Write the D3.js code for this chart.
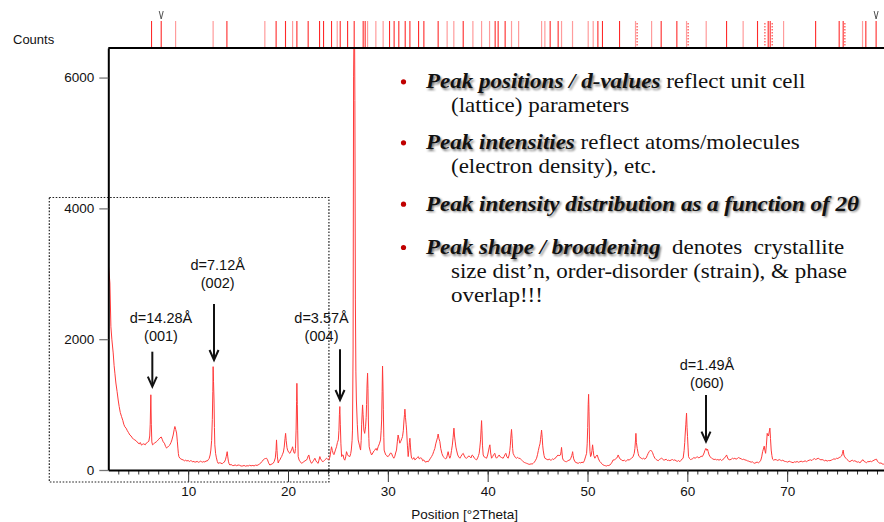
<!DOCTYPE html>
<html>
<head>
<meta charset="utf-8">
<script src="https://cdn.jsdelivr.net/npm/d3@7"></script>
<style>
  html, body { margin: 0; padding: 0; background: #fff; }
  svg { display: block; font-family: "Liberation Sans", Arial, sans-serif; }
</style>
</head>
<body>
<svg id="chart" width="884" height="522"></svg>
<script>
// Powder XRD scan: [position °2θ, counts]
const scan = [
[1.96,3210],[2.06,3050],[2.16,2860],[2.26,2190],[2.36,1990],[2.49,1790],[2.58,1600],[2.66,1480],[2.76,1330],[2.88,1200],
[2.99,1070],[3.09,970],[3.2,880],[3.33,815],[3.45,760],[3.55,700],[3.66,660],[3.78,640],[3.91,600],[4.03,570],
[4.16,535],[4.28,520],[4.41,490],[4.53,470],[4.66,460],[4.8,445],[4.96,415],[5.1,400],[5.2,420],[5.33,380],
[5.45,395],[5.56,400],[5.7,385],[5.83,415],[5.95,425],[6.06,440],[6.15,520],[6.2,700],[6.26,1150],[6.31,700],
[6.36,430],[6.43,385],[6.55,400],[6.66,415],[6.8,430],[6.91,445],[7.05,470],[7.17,490],[7.3,505],[7.4,470],
[7.5,430],[7.62,410],[7.74,360],[7.84,335],[7.95,350],[8.07,370],[8.17,385],[8.28,420],[8.37,460],[8.5,535],
[8.6,620],[8.67,665],[8.75,620],[8.84,565],[8.92,430],[8.97,335],[9.02,250],[9.07,205],[9.17,180],[9.27,170],
[9.38,160],[9.5,155],[9.62,140],[9.75,150],[9.87,138],[10.0,145],[10.12,130],[10.24,142],[10.34,138],[10.46,125],
[10.58,132],[10.67,120],[10.77,123],[10.9,132],[11.02,118],[11.15,126],[11.25,135],[11.34,127],[11.46,120],[11.57,130],
[11.67,122],[11.8,140],[11.9,135],[12.0,155],[12.1,175],[12.2,230],[12.27,305],[12.35,450],[12.42,770],[12.47,1200],
[12.5,1580],[12.54,1350],[12.59,1070],[12.63,650],[12.67,385],[12.75,250],[12.83,185],[12.92,130],[13.0,102],[13.12,110],
[13.27,107],[13.4,95],[13.51,112],[13.62,120],[13.73,155],[13.82,210],[13.91,280],[13.97,200],[14.03,135],[14.1,95],
[14.18,76],[14.3,85],[14.42,70],[14.58,68],[14.7,78],[14.85,66],[15.01,76],[15.15,72],[15.3,60],[15.48,62],
[15.6,70],[15.75,58],[15.9,66],[16.01,61],[16.15,72],[16.3,64],[16.48,70],[16.6,62],[16.75,75],[16.9,70],
[17.01,78],[17.15,92],[17.28,108],[17.4,130],[17.51,153],[17.62,168],[17.73,175],[17.85,180],[17.95,155],[18.03,120],
[18.1,95],[18.18,76],[18.3,85],[18.42,95],[18.51,102],[18.62,130],[18.73,185],[18.8,300],[18.85,460],[18.9,300],
[18.94,200],[19.02,107],[19.1,140],[19.19,155],[19.28,185],[19.36,205],[19.45,240],[19.54,275],[19.62,350],[19.7,480],
[19.76,560],[19.82,450],[19.9,340],[19.96,305],[20.07,270],[20.19,255],[20.3,290],[20.39,320],[20.46,355],[20.55,290],
[20.62,260],[20.69,255],[20.75,330],[20.81,610],[20.86,1050],[20.89,1325],[20.93,1000],[20.97,610],[21.02,205],[21.12,150],
[21.24,125],[21.36,102],[21.48,115],[21.59,127],[21.7,140],[21.8,148],[21.86,153],[21.95,180],[22.02,215],[22.09,230],
[22.18,160],[22.27,125],[22.36,102],[22.47,125],[22.58,150],[22.69,180],[22.8,140],[22.9,118],[23.02,102],[23.1,150],
[23.19,205],[23.27,170],[23.36,150],[23.44,130],[23.52,127],[23.6,140],[23.69,155],[23.78,165],[23.86,180],[23.97,165],
[24.09,155],[24.2,200],[24.3,300],[24.36,355],[24.44,300],[24.52,255],[24.6,235],[24.69,275],[24.78,320],[24.86,355],
[24.95,420],[25.04,460],[25.1,600],[25.15,850],[25.19,970],[25.24,700],[25.3,400],[25.37,205],[25.45,230],[25.52,230],
[25.6,170],[25.69,150],[25.78,200],[25.86,280],[25.95,240],[26.05,215],[26.19,205],[26.28,250],[26.34,305],[26.42,450],
[26.46,610],[26.52,1835],[26.57,6010],[26.62,6900],[26.66,6900],[26.7,5650],[26.75,2600],[26.8,1500],[26.85,1070],[26.94,700],
[27.03,460],[27.15,380],[27.27,305],[27.33,450],[27.38,700],[27.44,900],[27.47,995],[27.52,850],[27.6,610],[27.68,560],
[27.77,660],[27.83,800],[27.87,1000],[27.92,1300],[27.97,1480],[28.01,1250],[28.05,765],[28.1,480],[28.13,355],[28.25,280],
[28.37,230],[28.5,260],[28.6,290],[28.7,305],[28.82,330],[28.92,300],[29.03,355],[29.15,400],[29.27,460],[29.33,600],
[29.38,765],[29.43,1200],[29.47,1590],[29.51,1300],[29.55,920],[29.6,500],[29.63,305],[29.72,260],[29.8,230],[29.9,215],
[30.03,205],[30.15,230],[30.27,260],[30.37,255],[30.48,210],[30.6,180],[30.7,210],[30.78,260],[30.87,305],[30.95,430],
[31.03,535],[31.12,470],[31.2,410],[31.3,440],[31.4,480],[31.47,510],[31.55,600],[31.62,765],[31.67,850],[31.71,930],
[31.77,800],[31.83,700],[31.88,610],[31.96,380],[32.04,205],[32.1,300],[32.16,420],[32.21,485],[32.27,350],[32.33,230],
[32.38,180],[32.5,165],[32.6,190],[32.71,155],[32.83,170],[32.95,190],[33.05,205],[33.15,170],[33.27,185],[33.38,180],
[33.5,140],[33.6,155],[33.71,127],[33.82,120],[33.93,135],[34.04,125],[34.15,150],[34.27,180],[34.38,205],[34.5,240],
[34.6,285],[34.71,330],[34.8,400],[34.91,460],[34.98,500],[35.04,550],[35.12,480],[35.21,435],[35.3,330],[35.42,250],
[35.54,205],[35.65,190],[35.77,170],[35.88,180],[35.96,230],[36.04,280],[36.12,220],[36.21,180],[36.3,220],[36.38,300],
[36.46,380],[36.54,500],[36.62,640],[36.68,520],[36.75,430],[36.82,350],[36.88,305],[37.0,230],[37.1,200],[37.22,180],
[37.33,210],[37.45,240],[37.55,255],[37.66,215],[37.78,185],[37.89,180],[38.0,195],[38.1,215],[38.22,205],[38.33,185],
[38.45,230],[38.55,215],[38.67,180],[38.78,165],[38.89,155],[39.0,185],[39.08,220],[39.15,255],[39.22,350],[39.29,460],
[39.35,640],[39.39,755],[39.43,600],[39.48,380],[39.55,230],[39.65,200],[39.77,190],[39.89,180],[40.0,230],[40.1,305],
[40.16,350],[40.22,385],[40.3,260],[40.39,180],[40.5,205],[40.62,240],[40.72,255],[40.8,200],[40.89,180],[41.0,200],
[41.08,215],[41.15,230],[41.27,200],[41.4,190],[41.55,180],[41.66,210],[41.75,240],[41.82,255],[41.93,200],[42.05,180],
[42.15,230],[42.22,300],[42.27,380],[42.33,520],[42.39,620],[42.45,480],[42.5,330],[42.55,255],[42.66,220],[42.78,190],
[42.9,180],[43.0,195],[43.12,175],[43.23,180],[43.35,160],[43.45,145],[43.56,127],[43.68,115],[43.8,108],[43.9,102],
[44.02,95],[44.12,88],[44.23,87],[44.35,95],[44.45,90],[44.56,102],[44.68,120],[44.8,150],[44.9,180],[45.0,240],
[45.08,300],[45.16,355],[45.24,400],[45.3,470],[45.35,540],[45.4,610],[45.46,500],[45.51,380],[45.56,305],[45.65,220],
[45.73,180],[45.85,170],[45.95,160],[46.06,155],[46.17,170],[46.28,150],[46.4,155],[46.5,170],[46.62,160],[46.73,180],
[46.85,190],[46.95,215],[47.06,230],[47.15,215],[47.24,230],[47.3,230],[47.35,280],[47.4,345],[47.45,260],[47.5,185],
[47.56,155],[47.67,140],[47.78,130],[47.9,127],[48.02,140],[48.14,150],[48.24,155],[48.33,180],[48.42,220],[48.47,250],
[48.51,280],[48.56,220],[48.62,170],[48.74,127],[48.85,115],[48.95,108],[49.07,102],[49.2,115],[49.32,108],[49.45,120],
[49.57,112],[49.68,140],[49.8,200],[49.91,255],[49.97,400],[50.02,650],[50.07,1000],[50.11,1157],[50.15,900],[50.2,460],
[50.25,280],[50.31,205],[50.38,230],[50.45,300],[50.51,385],[50.57,300],[50.63,220],[50.74,180],[50.85,210],[50.97,230],
[51.1,170],[51.24,127],[51.35,110],[51.46,95],[51.57,76],[51.68,70],[51.8,65],[51.91,61],[52.02,70],[52.13,68],
[52.24,76],[52.35,95],[52.46,120],[52.57,155],[52.68,150],[52.8,170],[52.91,180],[53.0,200],[53.07,230],[53.15,200],
[53.25,170],[53.41,155],[53.55,140],[53.7,150],[53.8,135],[53.91,142],[54.05,160],[54.18,150],[54.3,170],[54.42,180],
[54.55,200],[54.68,255],[54.75,330],[54.81,460],[54.85,560],[54.9,420],[54.98,330],[55.08,250],[55.15,210],[55.25,195],
[55.38,180],[55.5,170],[55.62,180],[55.75,165],[55.88,185],[55.98,220],[56.08,255],[56.2,285],[56.32,305],[56.42,290],
[56.52,265],[56.62,220],[56.75,180],[56.88,160],[56.98,150],[57.08,142],[57.2,160],[57.3,170],[57.42,180],[57.55,165],
[57.65,150],[57.75,155],[57.88,165],[58.0,145],[58.12,150],[58.25,142],[58.4,155],[58.52,160],[58.62,148],[58.75,155],
[58.88,140],[59.0,132],[59.12,145],[59.25,127],[59.38,150],[59.48,170],[59.58,180],[59.68,300],[59.74,420],[59.78,535],
[59.85,700],[59.92,870],[59.97,650],[60.02,510],[60.07,350],[60.12,205],[60.22,175],[60.32,160],[60.42,165],[60.55,175],
[60.65,190],[60.78,180],[60.92,195],[61.05,200],[61.15,185],[61.26,195],[61.38,210],[61.5,205],[61.59,230],[61.68,260],
[61.76,300],[61.86,330],[61.95,300],[62.02,320],[62.09,280],[62.18,230],[62.3,200],[62.43,180],[62.55,170],[62.68,160],
[62.8,165],[62.93,155],[63.05,160],[63.18,150],[63.3,165],[63.43,145],[63.55,160],[63.68,175],[63.8,200],[63.88,215],
[63.93,230],[64.0,200],[64.1,165],[64.26,155],[64.4,165],[64.52,180],[64.65,170],[64.76,180],[64.88,165],[65.0,175],
[65.12,190],[65.26,180],[65.4,170],[65.52,160],[65.65,165],[65.76,155],[65.9,150],[66.02,140],[66.15,135],[66.26,127],
[66.4,120],[66.52,125],[66.64,110],[66.76,102],[66.88,115],[67.0,120],[67.12,110],[67.26,127],[67.36,150],[67.45,200],
[67.54,280],[67.62,320],[67.7,365],[67.77,300],[67.84,255],[67.92,380],[68.0,560],[68.06,530],[68.12,520],[68.2,580],
[68.27,640],[68.33,480],[68.4,305],[68.47,220],[68.54,165],[68.65,150],[68.78,160],[68.94,155],[69.06,145],[69.2,160],
[69.32,150],[69.44,142],[69.56,150],[69.7,135],[69.82,130],[69.94,127],[70.06,120],[70.2,135],[70.34,125],[70.47,118],
[70.6,112],[70.72,125],[70.86,120],[71.0,130],[71.13,118],[71.27,127],[71.4,135],[71.52,125],[71.66,130],[71.8,140],
[71.94,127],[72.06,140],[72.2,150],[72.34,155],[72.48,145],[72.61,165],[72.73,175],[72.86,160],[72.98,170],[73.11,180],
[73.25,165],[73.38,155],[73.5,160],[73.61,153],[73.75,140],[73.88,150],[74.0,135],[74.14,145],[74.28,142],[74.42,150],
[74.55,160],[74.68,170],[74.82,165],[74.95,180],[75.08,175],[75.2,190],[75.34,200],[75.45,215],[75.53,250],[75.61,305],
[75.68,230],[75.77,200],[75.88,180],[76.0,160],[76.14,140],[76.28,127],[76.4,140],[76.52,150],[76.65,135],[76.78,142],
[76.9,130],[77.02,120],[77.15,125],[77.28,112],[77.4,125],[77.5,150],[77.61,155],[77.72,130],[77.84,120],[77.95,112],
[78.08,130],[78.2,125],[78.32,135],[78.45,127],[78.58,140],[78.7,150],[78.82,160],[78.95,165],[79.05,130],[79.17,115],
[79.29,102],[79.4,110],[79.5,95],[79.62,87],[79.75,100],[79.9,95]
];

// Reference pattern stick positions (°2θ)
const refStrong = [6.33,7.30,13.88,18.81,19.75,20.89,22.02,23.16,23.56,24.36,25.23,25.97,26.63,27.53,27.73,
  30.17,30.63,31.10,31.74,32.21,33.08,33.61,35.04,37.55,40.75,41.05,41.75,46.26,47.06,51.04,51.50,53.21,
  57.38,58.95,63.93,67.03,68.10,68.30,72.85,75.21,75.61,77.88,78.91];
const refFaint = [8.74,12.50,17.68,20.46,24.93,27.97,28.80,29.53,35.94,36.61,38.52,39.39,40.19,42.39,43.10,
  45.40,45.73,47.40,48.50,50.07,50.57,54.81,56.42,59.92,61.89,65.59,69.64,77.55];
const refDotted = [54.97,60.08,67.77,68.50,75.78];
const refFlagged = [7.30,78.91];

const yTickValues = [0, 2000, 4000, 6000];
const xTickValues = [10, 20, 30, 40, 50, 60, 70];

// Labelled basal / (060) reflections
const peakNotes = [
  {theta: 6.41, tip: 1274, tail: 1809, labelTheta: 7.28, labelAt: 1972, d: "d=14.28Å", hkl: "(001)"},
  {theta: 12.59, tip: 1682, tail: 2538, labelTheta: 12.96, labelAt: 2783, d: "d=7.12Å", hkl: "(002)"},
  {theta: 25.21, tip: 1070, tail: 1846, labelTheta: 23.36, labelAt: 1972, d: "d=3.57Å", hkl: "(004)"},
  {theta: 61.87, tip: 433, tail: 1147, labelTheta: 61.97, labelAt: 1254, d: "d=1.49Å", hkl: "(060)"}
];

// Low-angle region outlined by a dotted box
const lowAngleBox = {thetaMax: 24.1, countsMax: 4166};

const bulletPoints = [
  {lead: "Peak positions / d-values", rest: " reflect unit cell", more: ["(lattice) parameters"]},
  {lead: "Peak intensities", rest: " reflect atoms/molecules", more: ["(electron density), etc."]},
  {lead: "Peak intensity distribution as a function of 2θ", rest: "", more: []},
  {lead: "Peak shape / broadening", rest: "  denotes  crystallite", more: ["size dist\u2019n, order-disorder (strain), & phase", "overlap!!!"]}
];

const W = 884, H = 522;
const svg = d3.select("#chart");
const x = d3.scaleLinear().domain([2, 80]).range([108.3, 887]);
const y = d3.scaleLinear().domain([0, 6452]).range([470, 48]);
const lineRed = "#ff3a3a";
const plotLeft = x.range()[0], plotTop = y.range()[1], plotBottom = y.range()[0];

const defs = svg.append("defs");
defs.append("clipPath").attr("id", "plotClip")
  .append("rect").attr("x", plotLeft).attr("y", plotTop)
  .attr("width", W - plotLeft).attr("height", plotBottom - plotTop);
defs.append("filter").attr("id", "soft").attr("x", "-5%").attr("y", "-20%").attr("width", "110%").attr("height", "140%")
  .append("feGaussianBlur").attr("stdDeviation", 1.1);

// dotted outline around the low-angle part
svg.append("rect")
  .attr("x", plotLeft - 59).attr("y", y(lowAngleBox.countsMax))
  .attr("width", x(lowAngleBox.thetaMax) - (plotLeft - 59))
  .attr("height", plotBottom + 12 - y(lowAngleBox.countsMax))
  .attr("fill", "none").attr("stroke", "#222").attr("stroke-width", 1.2)
  .attr("stroke-dasharray", "1.6,1.6");

// diffraction pattern
svg.append("path").datum(scan)
  .attr("clip-path", "url(#plotClip)")
  .attr("d", d3.line().x(d => x(d[0])).y(d => y(d[1])))
  .attr("fill", "none").attr("stroke", lineRed).attr("stroke-width", 1)
  .attr("stroke-linejoin", "round");

// y axis
const yAxis = svg.append("g").attr("transform", `translate(${plotLeft},0)`)
  .call(d3.axisLeft(y).tickValues(yTickValues).tickSize(9).tickSizeOuter(0).tickPadding(5).tickFormat(d3.format("d")));
yAxis.select(".domain").attr("stroke", "#000").attr("stroke-width", 2);
yAxis.selectAll(".tick line").attr("stroke", "#777").attr("stroke-width", 1.3);
yAxis.selectAll(".tick text").attr("font-size", 13.5).attr("fill", "#111")
  .attr("font-family", "Liberation Sans, Arial, sans-serif");

// x axis: minor ticks every degree, major every ten
const xMinor = svg.append("g").attr("transform", `translate(0,${plotBottom})`)
  .call(d3.axisBottom(x).tickValues(d3.range(3, 80)).tickSize(4.5).tickSizeOuter(0).tickFormat(""));
xMinor.select(".domain").remove();
xMinor.selectAll(".tick line").attr("stroke", "#333");
const xAxis = svg.append("g").attr("transform", `translate(0,${plotBottom})`)
  .call(d3.axisBottom(x).tickValues(xTickValues).tickSize(12).tickSizeOuter(0).tickPadding(4));
xAxis.select(".domain").attr("stroke", "#000").attr("stroke-width", 2);
xAxis.selectAll(".tick line").attr("stroke", "#333");
xAxis.selectAll(".tick text").attr("font-size", 13.5).attr("fill", "#111")
  .attr("font-family", "Liberation Sans, Arial, sans-serif");

// top frame line
svg.append("line").attr("x1", plotLeft).attr("x2", W).attr("y1", plotTop).attr("y2", plotTop)
  .attr("stroke", "#000").attr("stroke-width", 2);

// axis titles
svg.append("text").attr("x", 13).attr("y", 44).attr("font-size", 13).attr("fill", "#111").text("Counts");
svg.append("text").attr("x", (x(2) + x(80)) / 2 - 33).attr("y", 519).attr("text-anchor", "middle")
  .attr("font-size", 13.5).attr("fill", "#111").text("Position [°2Theta]");

// reference sticks above the frame
const stickTop = 21, stickBottom = plotTop - 1;
const sticks = svg.append("g");
sticks.selectAll(".faint").data(refFaint).join("line")
  .attr("x1", d => x(d)).attr("x2", d => x(d)).attr("y1", stickTop).attr("y2", stickBottom)
  .attr("stroke", "#ff9c9c").attr("stroke-width", 1.2);
sticks.selectAll(".strong").data(refStrong).join("line")
  .attr("x1", d => x(d)).attr("x2", d => x(d)).attr("y1", stickTop).attr("y2", stickBottom)
  .attr("stroke", "#ff2a2a").attr("stroke-width", 1.1);
sticks.selectAll(".dotted").data(refDotted).join("line")
  .attr("x1", d => x(d)).attr("x2", d => x(d)).attr("y1", stickTop + 2).attr("y2", stickBottom)
  .attr("stroke", "#ff4a4a").attr("stroke-width", 1.2).attr("stroke-dasharray", "1.5,1.5");
sticks.selectAll(".flag").data(refFlagged).join("path")
  .attr("d", d => `M${x(d) - 2},11 L${x(d)},19 L${x(d) + 2},11`)
  .attr("fill", "none").attr("stroke", "#555").attr("stroke-width", 1);

// reflection labels with arrows
const notes = svg.append("g");
peakNotes.forEach(n => {
  const ax = x(n.theta), yTip = y(n.tip), yTail = y(n.tail);
  notes.append("line").attr("x1", ax).attr("x2", ax).attr("y1", yTail).attr("y2", yTip - 1)
    .attr("stroke", "#111").attr("stroke-width", 2);
  notes.append("path").attr("d", `M${ax - 4.5},${yTip - 10} L${ax},${yTip} L${ax + 4.5},${yTip - 10}`)
    .attr("fill", "none").attr("stroke", "#111").attr("stroke-width", 2);
  const lx = x(n.labelTheta), ly = y(n.labelAt);
  notes.append("text").attr("x", lx).attr("y", ly - 18).attr("text-anchor", "middle")
    .attr("font-size", 14.5).attr("fill", "#111").text(n.d);
  notes.append("text").attr("x", lx).attr("y", ly).attr("text-anchor", "middle")
    .attr("font-size", 14.5).attr("fill", "#111").text(n.hkl);
});

// bullet text block (serif, slightly wide set)
const serif = "'Liberation Serif', 'Times New Roman', serif";
const bulletBaselines = [88.3, 149.3, 210.7, 254];
const lineGap = 24;
const textLeft = 426, hangIndent = 25, widen = 1.15;
const dots = svg.append("g");
const block = svg.append("g")
  .attr("transform", `translate(${textLeft},0) scale(${widen},1)`)
  .attr("font-family", serif).attr("font-size", 20);
bulletPoints.forEach((b, i) => {
  const by = bulletBaselines[i];
  dots.append("circle").attr("cx", 403.5).attr("cy", by - 6.5).attr("r", 2.6).attr("fill", "#c00000");
  // soft shadow behind the bold-italic lead
  const sh = block.append("text").attr("x", 1.4).attr("y", by + 1.6)
    .attr("xml:space", "preserve").attr("filter", "url(#soft)");
  sh.append("tspan").attr("font-weight", "bold").attr("font-style", "italic")
    .attr("fill", "#000").attr("fill-opacity", 0.55).text(b.lead);
  const t = block.append("text").attr("x", 0).attr("y", by).attr("fill", "#111")
    .attr("xml:space", "preserve");
  t.append("tspan").attr("font-weight", "bold").attr("font-style", "italic").text(b.lead);
  if (b.rest) t.append("tspan").text(b.rest);
  b.more.forEach((m, k) => {
    block.append("text").attr("x", hangIndent / widen).attr("y", by + lineGap * (k + 1))
      .attr("fill", "#111").attr("xml:space", "preserve").text(m);
  });
});
</script>
</body>
</html>
